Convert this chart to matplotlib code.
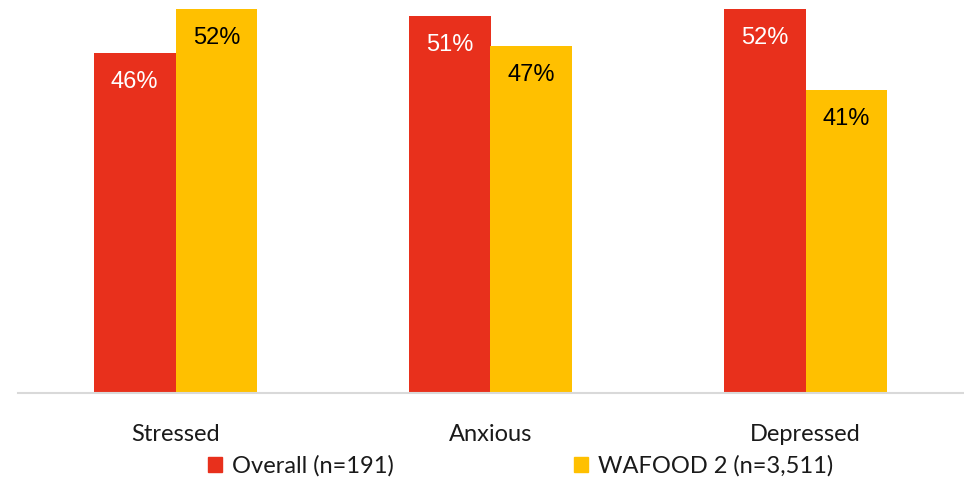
import matplotlib.pyplot as plt
import numpy as np
from matplotlib.patches import Patch

# Share of respondents reporting each feeling (%)
categories = ['Stressed', 'Anxious', 'Depressed']
overall = np.array([46, 51, 52])
wafood2 = np.array([52, 47, 41])
series_names = ['Overall (n=191)', 'WAFOOD 2 (n=3,511)']

red = '#E8301C'
yellow = '#FFC000'

fig = plt.figure(figsize=(9.64, 4.84), dpi=100)
ax = fig.add_axes([18 / 964, 91 / 484, 945 / 964, 393 / 484])

x = np.arange(len(categories))
bar_width = 0.26

bars1 = ax.bar(x - bar_width / 2, overall, width=bar_width, color=red)
bars2 = ax.bar(x + bar_width / 2, wafood2, width=bar_width, color=yellow)

# value labels inside the top of each bar
for b, v in zip(bars1, overall):
    ax.annotate(f'{v}%', (b.get_x() + b.get_width() / 2, v), xytext=(0, -29),
                textcoords='offset pixels', ha='center', va='center',
                fontsize=17, color='white', family='Liberation Sans')
for b, v in zip(bars2, wafood2):
    ax.annotate(f'{v}%', (b.get_x() + b.get_width() / 2, v), xytext=(0, -29),
                textcoords='offset pixels', ha='center', va='center',
                fontsize=17, color='black', family='Liberation Sans')

ax.set_xlim(-0.5, 2.5)
ax.set_ylim(0, 53.2)
ax.set_yticks([])
ax.set_xticks(x)
ax.set_xticklabels(categories, fontsize=17, family='Lato', color='#1a1a1a')
ax.tick_params(axis='x', length=0, pad=22)

for side in ['top', 'right', 'left']:
    ax.spines[side].set_visible(False)
ax.spines['bottom'].set_color('#D9D9D9')
ax.spines['bottom'].set_linewidth(1.5)

handles = [Patch(color=red, label=series_names[0]), Patch(color=yellow, label=series_names[1])]
leg = fig.legend(handles=handles, loc='center', bbox_to_anchor=(0.54, 0.037), ncol=2, frameon=False,
                 prop={'family': 'Lato', 'size': 17},
                 handlelength=0.6, handleheight=0.6, handletextpad=0.42, columnspacing=7.6)
for t in leg.get_texts():
    t.set_color('#1a1a1a')

plt.savefig('out.png', dpi=100)
